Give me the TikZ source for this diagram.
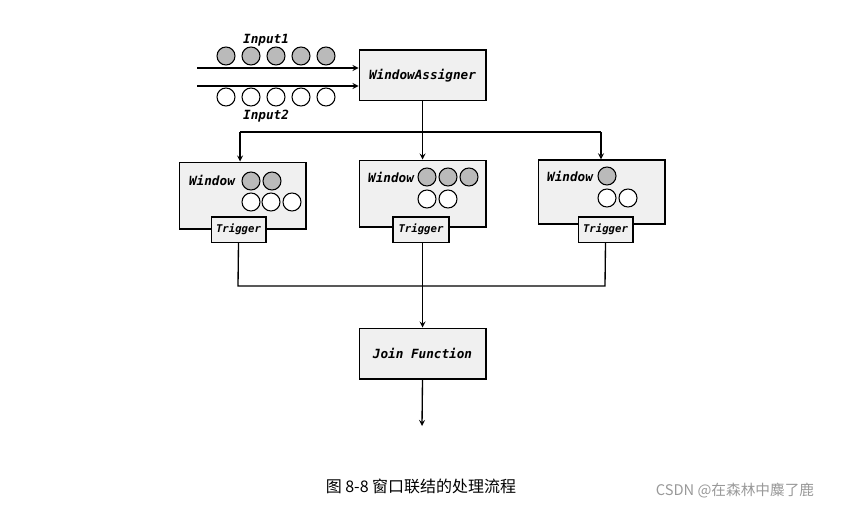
\documentclass[tikz,border=0pt]{standalone}
\usepackage{fontspec}
\setmainfont{Liberation Serif}
\newfontfamily\monof{DejaVu Sans Mono}
\newfontfamily\cjk{Noto Sans CJK SC}
\begin{document}
\begin{tikzpicture}[x=0.75pt,y=-0.75pt,
 box/.style={draw,line width=1pt,fill=gray!12,inner sep=0pt},
 lbl/.style={font=\monof\bfseries\itshape\fontsize{9.5}{10}\selectfont},
 slbl/.style={font=\monof\bfseries\itshape\fontsize{8}{9}\selectfont},
 full/.style={circle,draw,line width=0.8pt,fill=gray!110!black!60,minimum size=13.5pt,inner sep=0pt},
 empt/.style={circle,draw,line width=0.8pt,fill=white,minimum size=13.5pt,inner sep=0pt},
 ar/.style={->,>=stealth,line width=1pt},
 ln/.style={line width=1pt}]
\useasboundingbox (0,0) rectangle (857,510);
% inputs
\node[lbl] (in1) at (266,40) {Input1};
\node[lbl] (in2) at (266,116) {Input2};
\foreach \i/\x in {1/226,2/251,3/276,4/301,5/326}{
 \node[full] (f\i) at (\x,56) {};
 \node[empt] (e\i) at (\x,97) {};}
\node[box,minimum width=95pt,minimum height=38pt,lbl] (wa) at (422.5,75.5) {WindowAssigner};
\coordinate (s1) at (197,68); \coordinate (s2) at (197,86);
\draw[ar] (s1) -- (s1 -| wa.west);
\draw[ar] (s2) -- (s2 -| wa.west);
% windows
\node[box,minimum width=95pt,minimum height=50pt] (w1) at (242.5,195.5) {};
\node[box,minimum width=95pt,minimum height=50pt] (w2) at (422.5,193.5) {};
\node[box,minimum width=95pt,minimum height=48pt] (w3) at (601.5,192) {};
\node[lbl] at (212,180) {Window};
\node[lbl] at (391,177) {Window};
\node[lbl] at (570,176) {Window};
\node[full] at (251,181) {}; \node[full] at (272,181) {};
\node[empt] at (251,202) {}; \node[empt] at (271,202) {}; \node[empt] at (292,202) {};
\node[full] at (427,177) {}; \node[full] at (448,177) {}; \node[full] at (469,177) {};
\node[empt] at (427,199) {}; \node[empt] at (448,199) {};
\node[full] at (607,176) {};
\node[empt] at (607,198) {}; \node[empt] at (628,198) {};
\node[box,minimum width=41pt,minimum height=19pt,slbl] (t1) at (238.5,229.5) {Trigger};
\node[box,minimum width=42pt,minimum height=19pt,slbl] (t2) at (421,229.5) {Trigger};
\node[box,minimum width=41pt,minimum height=19pt,slbl] (t3) at (605.5,229.5) {Trigger};
% assigner to windows
\coordinate (hl) at (240,132); \coordinate (hr) at (601,132);
\draw[ln] (hl) -- (hr);
\draw[ar] (wa.south) -- (w2.north);
\draw[ar] (hl) -- (hl |- w1.north);
\draw[ar] (hr) -- (hr |- w3.north);
% join
\node[box,minimum width=95pt,minimum height=38pt,lbl] (jf) at (422.5,353.5) {Join Function};
\coordinate (jl) at (238,286); \coordinate (jr) at (605,286);
\draw[ln] (t1.south) -- (jl) -- (jr) -- (t3.south);
\draw[ar] (t2.south -| jf.north) -- (jf.north);
\coordinate (out) at (422,426);
\draw[ar] (jf.south) -- (out);
% caption
\node[font=\cjk\fontsize{12}{14}\selectfont] (cap) at (421,486) {图 8-8 窗口联结的处理流程};
\node[font=\cjk\fontsize{11}{13}\selectfont,text=gray!80] (wm) at (735,491) {CSDN @在森林中麋了鹿};
\end{tikzpicture}
\end{document}
